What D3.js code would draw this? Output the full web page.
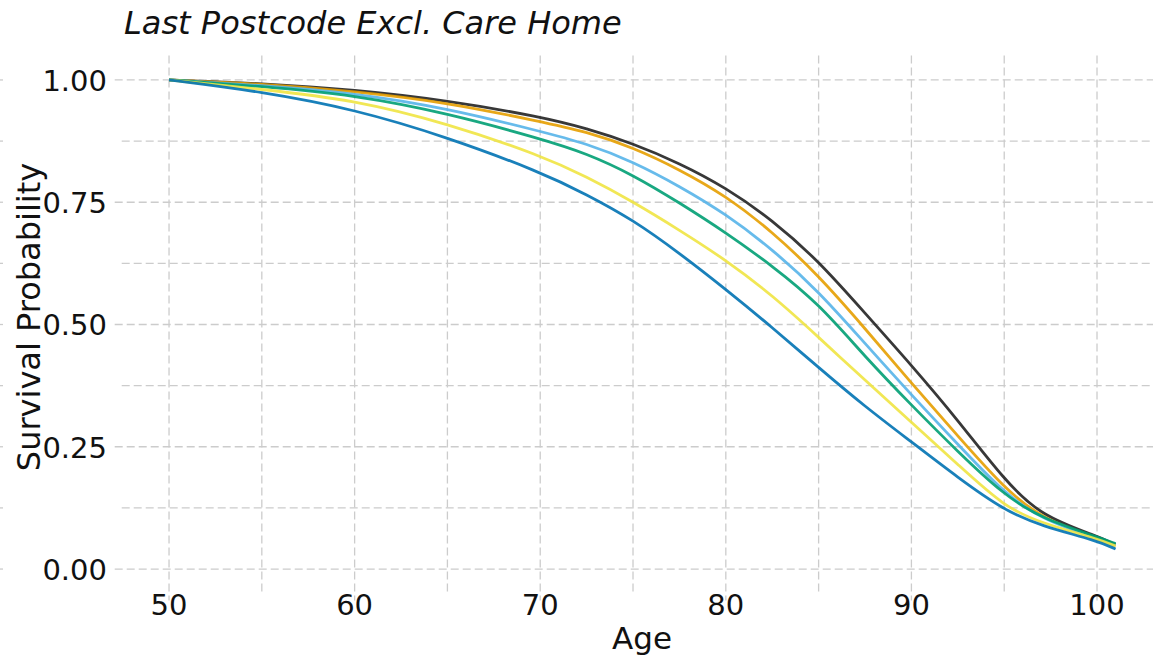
<!DOCTYPE html>
<html>
<head>
<meta charset="utf-8">
<script src="https://cdn.jsdelivr.net/npm/d3@7"></script>
<style>
  body { margin: 0; background: #fff; }
  svg { display: block; font-family: "DejaVu Sans", sans-serif; }
</style>
</head>
<body>
<div id="chart"></div>
<script>
// ages
var ages = [50, 55, 60, 65, 70, 72.5, 75, 77.5, 80, 82.5, 85, 87.5, 90, 92.5, 95, 97, 100, 101];

var black_vals  = [1, .993, .980, .958, .925, .901, .870, .830, .780, .714, .630, .523, .417, .305, .182, .108, .0675, .050];
var orange_vals = [1, .992, .977, .954, .915, .894, .862, .817, .763, .690, .600, .492, .380, .272, .165, .104, .062, .048];
var lblue_vals  = [1, .989, .973, .942, .895, .870, .833, .783, .726, .654, .568, .461, .356, .255, .155, .102, .062, .049];
var green_vals  = [1, .987, .969, .932, .880, .850, .806, .749, .688, .620, .543, .434, .335, .240, .151, .104, .066, .052];
var yellow_vals = [1, .981, .959, .911, .846, .802, .751, .693, .632, .560, .474, .386, .300, .214, .127, .094, .062, .047];
var blue_vals   = [1, .976, .940, .883, .812, .766, .714, .646, .572, .494, .412, .332, .260, .187, .120, .088, .058, .041];

var x_ticks = [50, 60, 70, 80, 90, 100];
var x_minor = [55, 65, 75, 85, 95];
var y_ticks = [0, 0.25, 0.5, 0.75, 1];
var y_minor = [0.125, 0.375, 0.625, 0.875];

var series = [
    {vals: black_vals,  color: "#222222"},
    {vals: orange_vals, color: "#E69F00"},
    {vals: lblue_vals,  color: "#56B4E9"},
    {vals: green_vals,  color: "#009E73"},
    {vals: yellow_vals, color: "#F0E442"},
    {vals: blue_vals,   color: "#0072B2"}
];

function make_survival_plot() {
    var W = 1153, H = 656;
    var svg = d3.select("#chart").append("svg")
        .attr("width", W)
        .attr("height", H);

    // panel edges (ggplot style 5% expansion); the right side runs past the crop
    var pLeft = 121.7, pRight = 1162.9, pTop = 55.5, pBottom = 593.5;

    var xScale = d3.scaleLinear([47.45, 103.55], [pLeft, pRight]);
    var yScale = d3.scaleLinear([-0.05, 1.05], [pBottom, pTop]);

    var grid = svg.append("g")
        .attr("stroke", "#cccccc")
        .attr("stroke-width", 1.3)
        .attr("fill", "none");

    grid.selectAll("line.h")
        .data(y_ticks.concat(y_minor))
        .join("line")
        .attr("class", "h")
        .attr("stroke-dasharray", "8,4")
        .attr("x1", d => y_ticks.includes(d) ? pLeft - 7 : pLeft)
        .attr("x2", W)
        .attr("y1", d => yScale(d))
        .attr("y2", d => yScale(d));

    // bits of the neighbouring panel's grid at the left edge
    grid.selectAll("line.nb")
        .data(y_ticks.concat(y_minor))
        .join("line")
        .attr("class", "nb")
        .attr("x1", 0)
        .attr("x2", 3)
        .attr("y1", d => yScale(d))
        .attr("y2", d => yScale(d));

    grid.selectAll("line.v")
        .data(x_ticks.concat(x_minor))
        .join("line")
        .attr("class", "v")
        .attr("stroke-dasharray", "8,4")
        .attr("x1", d => xScale(d))
        .attr("x2", d => xScale(d))
        .attr("y1", pTop)
        .attr("y2", d => x_ticks.includes(d) ? pBottom + 7 : pBottom);

    // curves
    var line = d3.line()
        .x((d, i) => xScale(ages[i]))
        .y(d => yScale(d))
        .curve(d3.curveBasis);

    svg.append("g")
        .selectAll("path")
        .data(series)
        .join("path")
        .attr("d", d => line(d.vals))
        .attr("fill", "none")
        .attr("stroke", d => d.color)
        .attr("stroke-width", 2.8)
        .attr("stroke-opacity", 0.9)
        .attr("stroke-linejoin", "round");

    // tick labels
    svg.append("g")
        .selectAll("text")
        .data(y_ticks)
        .join("text")
        .attr("x", 107)
        .attr("y", d => yScale(d))
        .attr("dy", "0.37em")
        .attr("text-anchor", "end")
        .attr("font-size", 29)
        .attr("fill", "#111")
        .text(d => d3.format(".2f")(d));

    svg.append("g")
        .selectAll("text")
        .data(x_ticks)
        .join("text")
        .attr("x", d => xScale(d))
        .attr("y", 615)
        .attr("text-anchor", "middle")
        .attr("font-size", 29)
        .attr("fill", "#111")
        .text(d => d);

    // axis titles
    svg.append("text")
        .attr("x", 642)
        .attr("y", 649)
        .attr("text-anchor", "middle")
        .attr("font-size", 31)
        .attr("fill", "#111")
        .text("Age");

    svg.append("text")
        .attr("transform", "translate(40,317) rotate(-90)")
        .attr("text-anchor", "middle")
        .attr("font-size", 32)
        .attr("fill", "#111")
        .text("Survival Probability");

    // subtitle
    svg.append("text")
        .attr("x", 124)
        .attr("y", 34)
        .attr("font-size", 32)
        .attr("font-style", "italic")
        .attr("fill", "#111")
        .text("Last Postcode Excl. Care Home");
}

make_survival_plot();
</script>
</body>
</html>
